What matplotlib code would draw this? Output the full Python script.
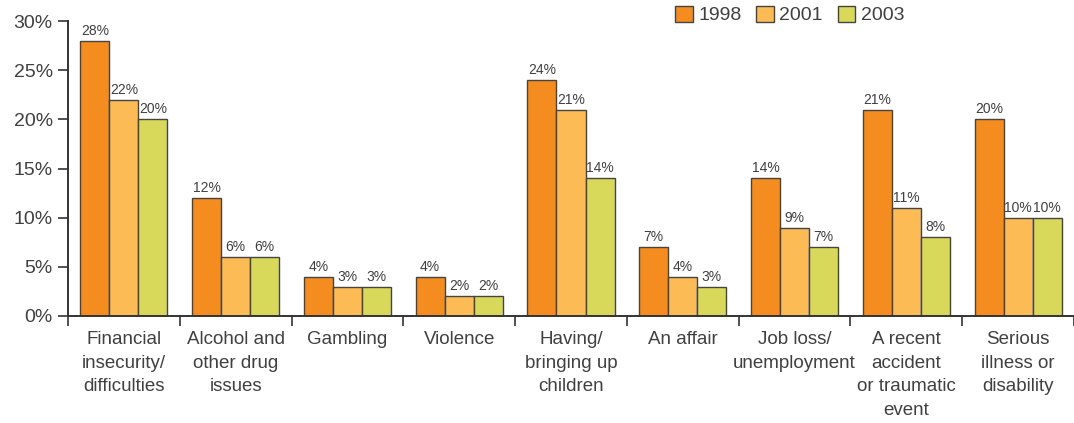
import numpy as np
import matplotlib
matplotlib.use("Agg")
import matplotlib.pyplot as plt

categories = ["Financial\ninsecurity/\ndifficulties", "Alcohol and\nother drug\nissues",
              "Gambling", "Violence", "Having/\nbringing up\nchildren", "An affair",
              "Job loss/\nunemployment", "A recent\naccident\nor traumatic\nevent",
              "Serious\nillness or\ndisability"]
years = ["1998", "2001", "2003"]
v1998 = [28, 12, 4, 4, 24, 7, 14, 21, 20]
v2001 = [22, 6, 3, 2, 21, 4, 9, 11, 10]
v2003 = [20, 6, 3, 2, 14, 3, 7, 8, 10]
colors = ["#F58C1F", "#FDBB55", "#D8D95A"]

plt.rcParams['font.family'] = ['Liberation Sans', 'DejaVu Sans']
text_col = "#404040"

fig = plt.figure(figsize=(10.74, 4.23), dpi=100)
ax = fig.add_axes([68 / 1074, 1 - 316 / 423, 1 - 68 / 1074, (316 - 21) / 423])

x = np.arange(len(categories))
w = 0.26
for i, (vals, c, yr) in enumerate(zip([v1998, v2001, v2003], colors, years)):
    bars = ax.bar(x + (i - 1) * w, vals, w, color=c, edgecolor="#444444",
                  linewidth=1.0, label=yr, zorder=2)
    for b, v in zip(bars, vals):
        ax.text(b.get_x() + b.get_width() / 2, v + 0.3, f"{v}%", ha="center",
                va="bottom", fontsize=10, color=text_col)

ax.set_xlim(-0.5, len(categories) - 0.5)
ax.set_ylim(0, 30)
ax.set_yticks(range(0, 31, 5))
ax.set_yticklabels([f"{t}%" for t in range(0, 31, 5)], fontsize=14, color=text_col)
ax.set_xticks(np.arange(-0.5, len(categories), 1))
ax.set_xticklabels([])
ax.set_xticks(x, minor=True)
ax.set_xticklabels(categories, minor=True, fontsize=13.5, color=text_col,
                   va="top", linespacing=1.5)
ax.tick_params(axis="x", which="minor", length=0, pad=11)
ax.tick_params(axis="x", which="major", length=7, width=1.2, color="#333333", direction="out")
ax.tick_params(axis="y", length=7, width=1.2, color="#333333", pad=4)
for s in ["top", "right"]:
    ax.spines[s].set_visible(False)
for s in ["left", "bottom"]:
    ax.spines[s].set_color("#333333")
    ax.spines[s].set_linewidth(1.4)

fig.legend(loc="center left", bbox_to_anchor=(675 / 1074, 1 - 15 / 423), ncol=3,
           frameon=False, fontsize=14, handlelength=0.9, handleheight=0.9,
           handletextpad=0.3, columnspacing=0.75, labelcolor=text_col,
           borderaxespad=0, borderpad=0)

fig.savefig("out.png", dpi=100)
